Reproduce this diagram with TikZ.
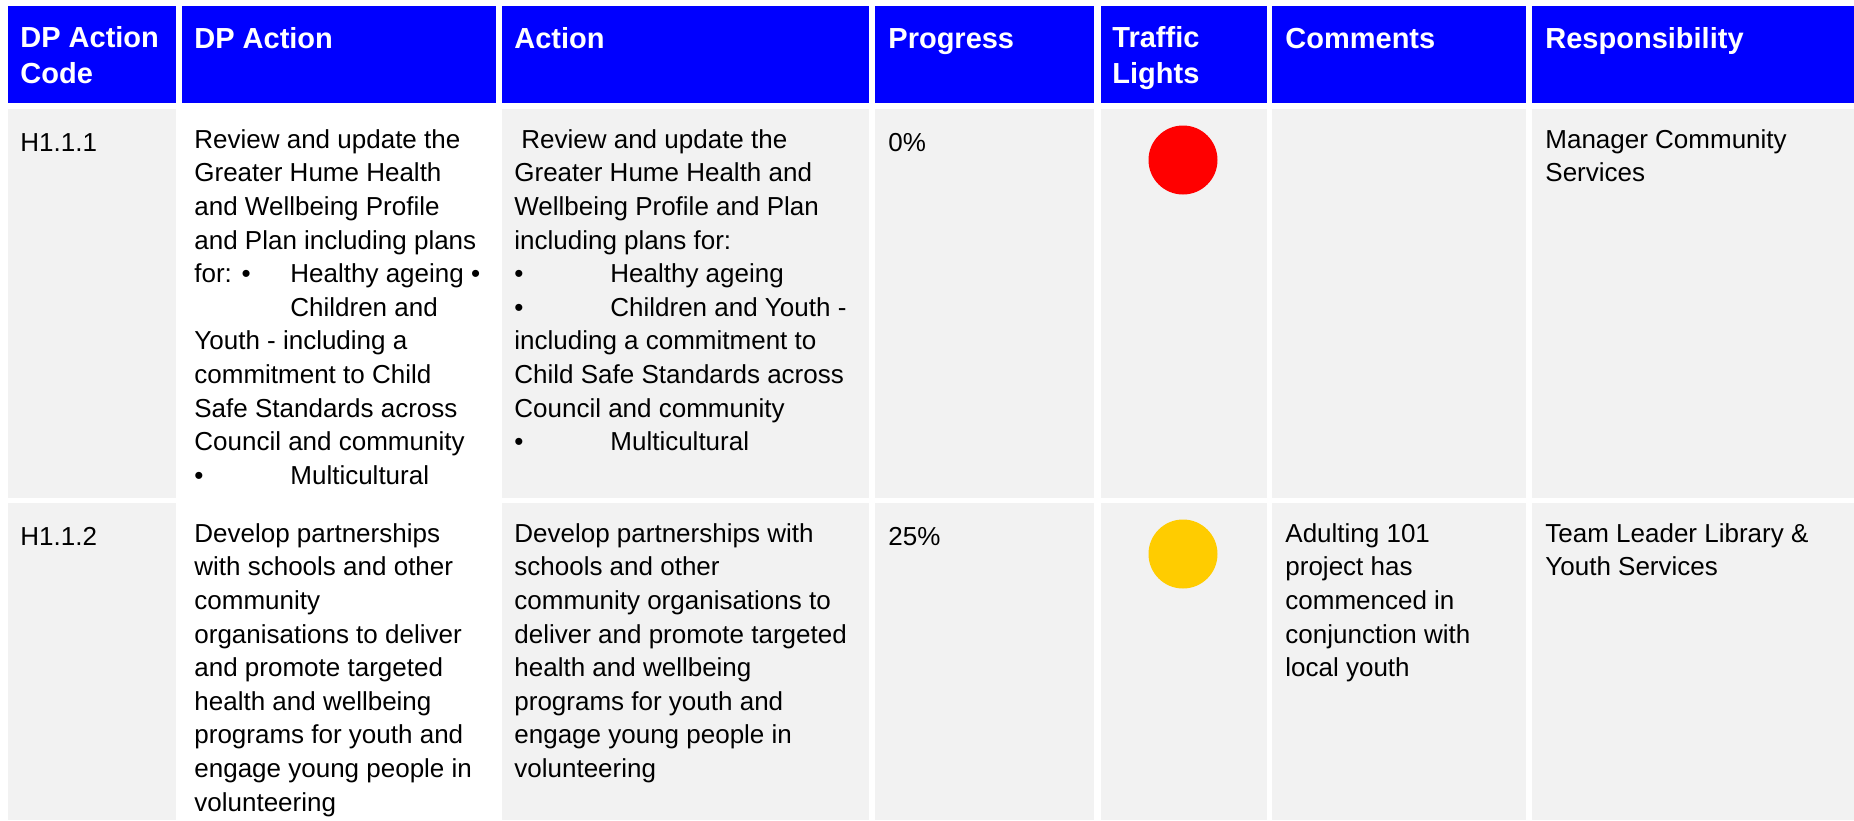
\documentclass[tikz,border=0pt]{standalone}
\usepackage{fontspec}
\setmainfont{Liberation Sans}
\definecolor{hdrblue}{HTML}{0000FF}
\definecolor{cellgrey}{HTML}{F2F2F2}
\definecolor{lampred}{HTML}{FF0000}
\definecolor{lampamber}{HTML}{FFCC00}
\newcommand{\bul}[1]{\makebox[48pt][l]{•}#1}
\newcommand{\tabin}{\hspace*{48pt}}
\tikzset{
  hdr/.style={anchor=north west, inner sep=0pt, align=left, text=white, yshift=11pt,
    execute at begin node=\rule{0pt}{11pt},
    font=\fontsize{14.5}{18}\selectfont\bfseries},
  txt/.style={anchor=north west, inner sep=0pt, align=left, yshift=11pt,
    execute at begin node=\rule{0pt}{11pt},
    font=\fontsize{13}{16.8}\selectfont},
  lamp/.style={circle, inner sep=0pt, minimum size=34.5pt},
}

\begin{document}
\begin{tikzpicture}[x=0.5pt, y=-0.5pt]
    \useasboundingbox (0,0) rectangle (1854,820);
    % cell backgrounds
    \foreach \xa/\xb in {8/176,182/496,502/869,875/1094,1101/1267,1272/1526,1532/1854}
        \fill[hdrblue] (\xa,6) rectangle (\xb,103);
    \foreach \xa/\xb in {8/176,502/869,875/1094,1101/1267,1272/1526,1532/1854} {
        \fill[cellgrey] (\xa,109) rectangle (\xb,498);
        \fill[cellgrey] (\xa,503) rectangle (\xb,820);
    }
    % header
    \node[hdr] (hcode) at (20,48) {DP Action\\Code};
    \node[hdr] (hdp) at (194,48) {DP Action};
    \node[hdr] (hact) at (514,48) {Action};
    \node[hdr] (hprog) at (888,48) {Progress};
    \node[hdr] (hlight) at (1112,48) {Traffic\\Lights};
    \node[hdr] (hcomm) at (1285,48) {Comments};
    \node[hdr] (hresp) at (1545,48) {Responsibility};
    % row H1.1.1
    \node[txt] (codeA) at (20,151) {H1.1.1};
    \node[txt] (dpA) at (194,151) {Review and update the\\
        Greater Hume Health\\
        and Wellbeing Profile\\
        and Plan including plans\\
        \makebox[48pt][l]{for: •}Healthy ageing •\\
        \tabin Children and\\
        Youth - including a\\
        commitment to Child\\
        Safe Standards across\\
        Council and community\\
        \bul{Multicultural}};
    \node[txt] (actA) at (514,151) {\hspace*{3.5pt}Review and update the\\
        Greater Hume Health and\\
        Wellbeing Profile and Plan\\
        including plans for:\\
        \bul{Healthy ageing}\\
        \bul{Children and Youth -}\\
        including a commitment to\\
        Child Safe Standards across\\
        Council and community\\
        \bul{Multicultural}};
    \node[txt] (progA) at (888,151) {0\%};
    \node[lamp, fill=lampred] (lampA) at (1183,160) {};
    \node[txt] (respA) at (1545,151) {Manager Community\\Services};
    % row H1.1.2
    \node[txt] (codeB) at (20,545) {H1.1.2};
    \node[txt] (dpB) at (194,545) {Develop partnerships\\
        with schools and other\\
        community\\
        organisations to deliver\\
        and promote targeted\\
        health and wellbeing\\
        programs for youth and\\
        engage young people in\\
        volunteering};
    \node[txt] (actB) at (514,545) {Develop partnerships with\\
        schools and other\\
        community organisations to\\
        deliver and promote targeted\\
        health and wellbeing\\
        programs for youth and\\
        engage young people in\\
        volunteering};
    \node[txt] (progB) at (888,545) {25\%};
    \node[lamp, fill=lampamber] (lampB) at (1183,554) {};
    \node[txt] (commB) at (1285,545) {Adulting 101\\
        project has\\
        commenced in\\
        conjunction with\\
        local youth};
    \node[txt] (respB) at (1545,545) {Team Leader Library \&\\Youth Services};
\end{tikzpicture}
\end{document}
